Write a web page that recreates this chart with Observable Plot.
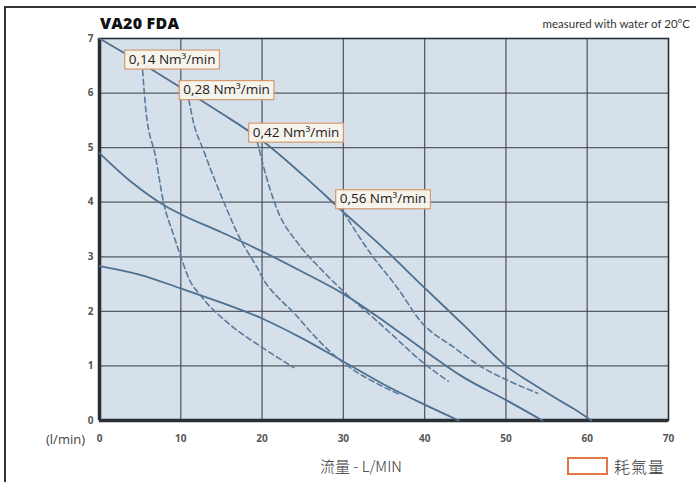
<!DOCTYPE html>
<html>
<head>
<meta charset="utf-8">
<script src="https://cdn.jsdelivr.net/npm/d3@7"></script>
<script src="https://cdn.jsdelivr.net/npm/@observablehq/plot@0.6"></script>
<style>
  html, body { margin: 0; padding: 0; background: #fff; }
  #wrap { position: relative; width: 696px; height: 482px; overflow: hidden; font-family: "Open Sans", sans-serif; }
  .bline { position: absolute; background: #333; z-index: 5; }
  #btop { left: 4px; top: 6px; width: 692px; height: 2px; }
  #bleft { left: 4px; top: 6px; width: 2px; height: 476px; }
  .abs { position: absolute; white-space: nowrap; z-index: 4; }
  #title { left: 100px; top: 12px; font-size: 16px; font-weight: 800; color: #111; letter-spacing: 0.2px; }
  #note { right: 6px; top: 17px; font-family: "Lato", sans-serif; font-size: 11.5px; color: #333; }
  #unit { left: 46px; top: 430px; font-size: 13px; color: #444; }
  #xtitle { left: 320px; top: 455px; font-family: "Noto Sans CJK TC", "Noto Sans", sans-serif; font-size: 15px; color: #333; font-weight: 300; }
  #legbox { left: 567px; top: 457px; width: 37px; height: 14px; border: 2px solid #e07a45; box-sizing: content-box; }
  #legtext { left: 614px; top: 454px; font-family: "Noto Sans CJK TC", sans-serif; font-size: 16px; color: #333; font-weight: 300; letter-spacing: 1px; }
  #chart { position: absolute; left: 0; top: 0; z-index: 1; }
</style>
</head>
<body>
<div id="wrap">
  <div id="chart"></div>
  <div class="bline" id="btop"></div>
  <div class="bline" id="bleft"></div>
  <div class="abs" id="title">VA20 FDA</div>
  <div class="abs" id="note">measured with water of 20°C</div>
  <div class="abs" id="unit">(l/min)</div>
  <div class="abs" id="xtitle">流量 - L/MIN</div>
  <div class="abs" id="legbox"></div>
  <div class="abs" id="legtext">耗氣量</div>
</div>
<script>
// Pressure (head) curves, solid: [flow l/min, value]
const solidTop = [[0,7.0],[5,6.56],[10,6.1],[15,5.63],[20,5.13],[25,4.5],[30,3.82],[35,3.15],[40,2.43],[45,1.72],[50,1.0],[53,0.7],[56,0.42],[58.5,0.2],[60.5,0]];
const solidMid = [[0,4.9],[4,4.36],[8,3.94],[10,3.78],[15,3.45],[20,3.1],[25,2.72],[30,2.32],[35,1.82],[40,1.28],[44.8,0.79],[50.2,0.36],[54.5,0]];
const solidLow = [[0,2.83],[5,2.67],[10,2.42],[15,2.16],[20,1.87],[25,1.5],[30,1.08],[35,0.66],[40,0.29],[44.2,0]];

// Air consumption curves, dashed
const dash014 = [[5.3,6.42],[5.7,5.69],[6.9,4.83],[7.9,3.98],[9,3.45],[10,3.0],[11,2.6],[12.5,2.28],[16.1,1.75],[20,1.34],[23.9,0.97]];
const dash028 = [[11.0,5.88],[11.5,5.5],[12.8,4.95],[15.3,4.0],[17.4,3.3],[19.4,2.8],[20.3,2.55],[22,2.25],[24,1.96],[26,1.62],[28.3,1.27],[31.3,0.92],[34.5,0.65],[37,0.47]];
const dash042 = [[19.4,5.12],[20.2,4.64],[21.9,3.85],[24.4,3.25],[27.2,2.78],[30.5,2.3],[33.4,1.92],[35.5,1.64],[39.9,1.05],[42.9,0.72]];
const dash056 = [[30,3.82],[33.4,3.05],[36.7,2.42],[39.6,1.8],[43.6,1.34],[46.9,0.99],[50,0.75],[53.9,0.5]];

// Labels
const labelText = ["0,14 Nm³/min", "0,28 Nm³/min", "0,42 Nm³/min", "0,56 Nm³/min"];
const labelX = [3.6, 10.3, 18.85, 29.55];
const labelY = [6.62, 6.06, 5.28, 4.06];

const xTicks = [0, 10, 20, 30, 40, 50, 60, 70];
const yTicks = [0, 1, 2, 3, 4, 5, 6, 7];

const solidSeries = [solidTop, solidMid, solidLow];
const dashSeries = [dash014, dash028, dash042, dash056];
const labels = labelText.map((t, i) => ({t, x: labelX[i], y: labelY[i]}));

const lineColor = "#4f6f8f";
const gridColor = "#3e444c";

const marks = [
  Plot.frame({fill: "#d5e0eb", stroke: null}),
  Plot.gridX(xTicks.slice(1, -1), {stroke: gridColor, strokeOpacity: 0.85, strokeWidth: 1.3}),
  Plot.gridY(yTicks.slice(1, -1), {stroke: gridColor, strokeOpacity: 0.85, strokeWidth: 1.3}),
  Plot.frame({stroke: "#2a2f36", strokeWidth: 1.6}),
  Plot.ruleX([0], {stroke: "#2a2f36", strokeWidth: 3.5}),
  Plot.ruleY([0], {stroke: "#2a2f36", strokeWidth: 3.5}),
  ...solidSeries.map(s => Plot.line(s, {x: d => d[0], y: d => d[1], stroke: lineColor, strokeWidth: 1.8, curve: "monotone-x"})),
  ...dashSeries.map(s => Plot.line(s, {x: d => d[0], y: d => d[1], stroke: "#5a7b9c", strokeWidth: 1.6, strokeDasharray: "5.5,3.5", curve: "monotone-x"})),
  Plot.axisX(xTicks, {tickSize: 0, tickPadding: 14, fontSize: 10, fontWeight: "bold", fill: "#555", fontFamily: "Open Sans", tickFormat: "d"}),
  Plot.axisY(yTicks, {tickSize: 0, tickPadding: 6, fontSize: 10, fontWeight: "bold", fill: "#555", fontFamily: "Open Sans", tickFormat: "d"}),
  Plot.text(labels, {x: "x", y: "y", text: "t", textAnchor: "start", fontSize: 13.5, fill: "#222", fontFamily: "Open Sans", fontWeight: 500})
];

const chart = Plot.plot({
  width: 696,
  height: 482,
  marginLeft: 99,
  marginRight: 28,
  marginTop: 38,
  marginBottom: 62,
  style: {background: "transparent", overflow: "visible"},
  x: {domain: [0, 70], label: null},
  y: {domain: [0, 7], label: null},
  marks
});
document.getElementById("chart").appendChild(chart);

// boxes behind the label texts
const svgNS = "http://www.w3.org/2000/svg";
Array.from(chart.querySelectorAll("text"))
  .filter(t => t.textContent.indexOf("Nm") >= 0)
  .forEach(t => {
    const b = t.getBBox();
    const r = document.createElementNS(svgNS, "rect");
    r.setAttribute("x", b.x - 4);
    r.setAttribute("y", b.y + 0.5);
    r.setAttribute("width", b.width + 8);
    r.setAttribute("height", b.height + 1);
    r.setAttribute("fill", "#faf5ec");
    r.setAttribute("fill-opacity", "0.93");
    r.setAttribute("stroke", "#d49a70");
    r.setAttribute("stroke-width", "1.2");
    const tr = t.getAttribute("transform");
    if (tr) r.setAttribute("transform", tr);
    t.parentNode.insertBefore(r, t);
  });
</script>
</body>
</html>
